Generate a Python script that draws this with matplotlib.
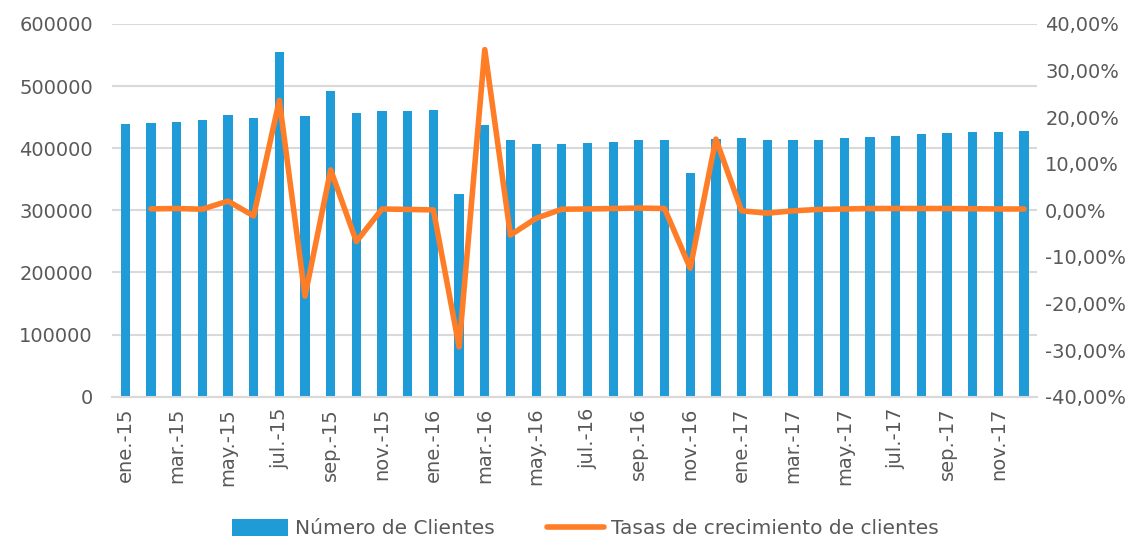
import matplotlib.pyplot as plt
import numpy as np
from matplotlib.ticker import FuncFormatter

plt.rcParams['font.family'] = ['DejaVu Sans']

# Data
meses = ["ene.", "feb.", "mar.", "abr.", "may.", "jun.",
         "jul.", "ago.", "sep.", "oct.", "nov.", "dic."]
etiquetas = [f"{m}-{a}" for a in ["15", "16", "17"] for m in meses]

clientes = [439000, 440400, 443000, 444700, 453300, 448500,
            554200, 451100, 492500, 457100, 459800, 460300,
            460800, 326100, 437700, 413600, 407100, 407600,
            409200, 410800, 412500, 413600, 360900, 415000,
            416300, 413600, 412500, 413600, 416300, 418400,
            420000, 422200, 423800, 425400, 426500, 428100]

# growth rate starts in feb.-15
tasas = [None, 0.32, 0.40, 0.25, 2.0, -1.2,
         23.6, -18.4, 8.7, -6.7, 0.3, 0.2,
         0.1, -29.3, 34.5, -5.3, -1.7, 0.25,
         0.3, 0.4, 0.5, 0.4, -12.4, 15.3,
         -0.1, -0.6, -0.1, 0.2, 0.3, 0.4,
         0.4, 0.4, 0.4, 0.35, 0.3, 0.3]

gris = "#595959"
azul = "#1F9BD8"
naranja = "#FF7D27"

x = np.arange(len(clientes))
tasa_x = [i for i, t in enumerate(tasas) if t is not None]
tasa_y = [t / 100 for t in tasas if t is not None]


def pct(v, p):
    v = round(v * 100, 2) + 0.0
    return f"{v:.2f}%".replace(".", ",")


fig = plt.figure(figsize=(11.47, 5.45), dpi=100)
ax = fig.add_axes([0.098, 0.272, 0.806, 0.684])
ax2 = ax.twinx()

ax.bar(x, clientes, width=0.36, color=azul, label="Número de Clientes", zorder=2)
ax2.plot(tasa_x, tasa_y, color=naranja, linewidth=4, solid_joinstyle="round",
         solid_capstyle="round", label="Tasas de crecimiento de clientes", zorder=3)

ax.set_ylim(0, 600000)
ax.set_yticks(range(0, 600001, 100000))
ax.set_xlim(-0.5, len(clientes) - 0.5)
ax2.set_ylim(-0.4, 0.4)
ax2.set_yticks(np.arange(-0.4, 0.41, 0.1))
ax2.yaxis.set_major_formatter(FuncFormatter(pct))

ax.set_xticks(x[::2])
ax.set_xticklabels(etiquetas[::2], rotation=90, fontsize=14, color=gris)

ax.grid(axis="y", color="#D9D9D9", linewidth=1.5, zorder=0)
ax.set_axisbelow(True)
for a in (ax, ax2):
    for s in a.spines.values():
        s.set_visible(False)
    a.tick_params(length=0, labelsize=14, labelcolor=gris)
ax.spines["bottom"].set_visible(True)
ax.spines["bottom"].set_color("#D9D9D9")
ax.spines["bottom"].set_linewidth(1.5)
ax.tick_params(axis="y", pad=14)
ax.tick_params(axis="x", pad=8)
ax2.tick_params(axis="y", pad=6)

h1, l1 = ax.get_legend_handles_labels()
h2, l2 = ax2.get_legend_handles_labels()
fig.legend(h1 + h2, l1 + l2, loc="center", bbox_to_anchor=(0.51, 0.03), ncol=2,
           frameon=False, fontsize=14.5, labelcolor=gris, handlelength=2.8,
           handleheight=0.9, columnspacing=2.6, handletextpad=0.35)

plt.savefig("out.png", dpi=100)
